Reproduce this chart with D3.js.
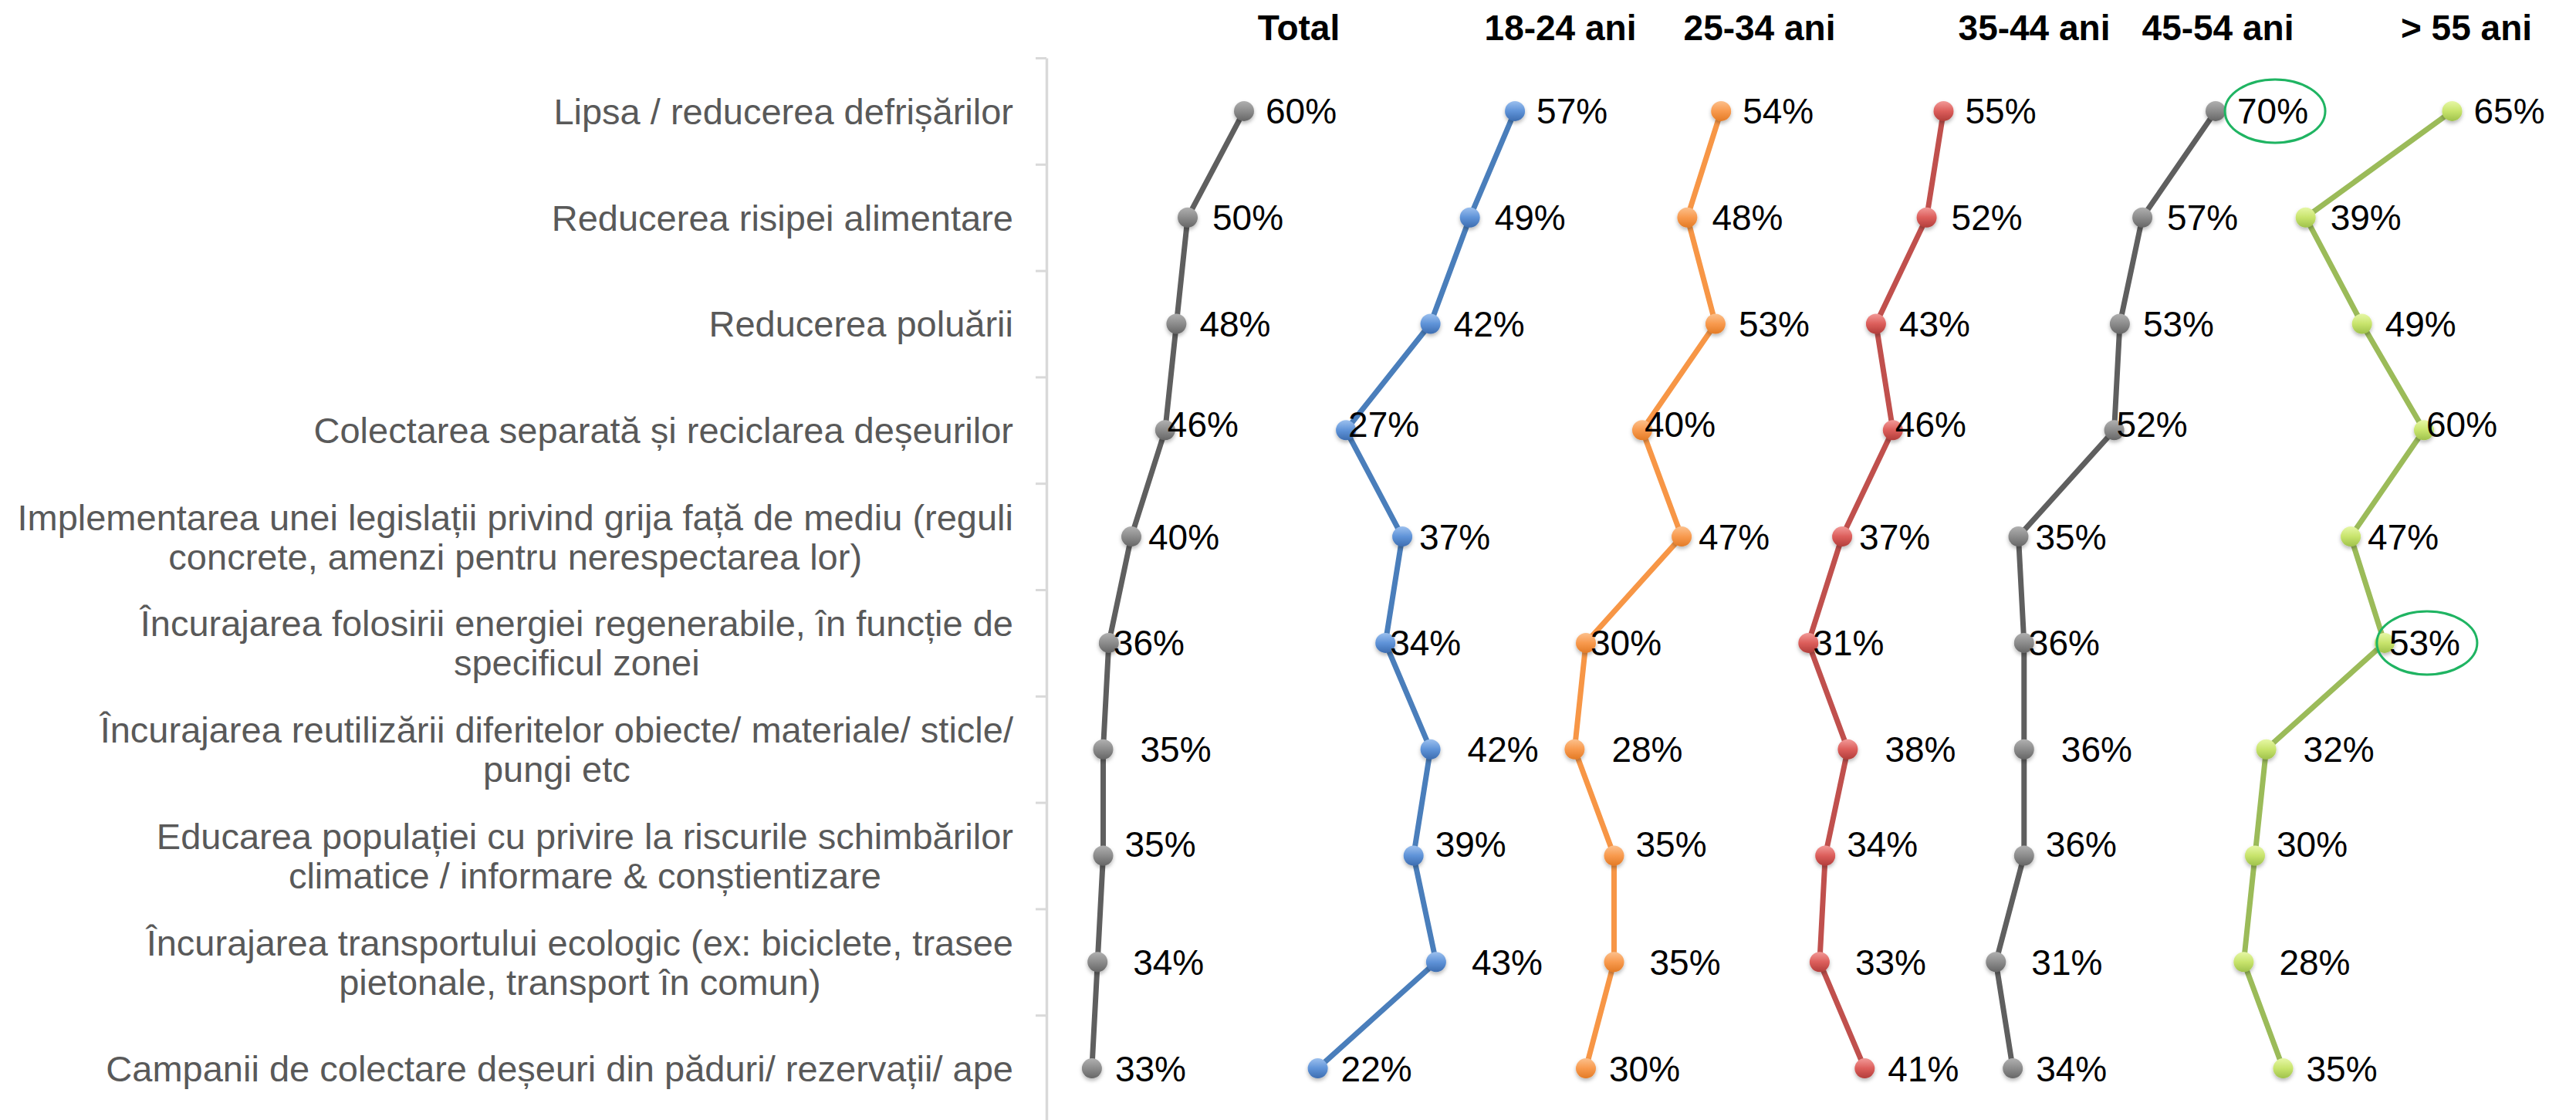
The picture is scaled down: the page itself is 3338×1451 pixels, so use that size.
<!DOCTYPE html>
<html>
<head>
<meta charset="utf-8">
<script src="https://cdn.jsdelivr.net/npm/d3@7"></script>
<style>
  html, body { margin: 0; padding: 0; background: #ffffff; }
  svg { display: block; }
</style>
</head>
<body>
<svg id="chart" width="3338" height="1451"></svg>
<script>
// ---- data ----
const categories = [
  "Lipsa / reducerea defrișărilor",
  "Reducerea risipei alimentare",
  "Reducerea poluării",
  "Colectarea separată și reciclarea deșeurilor",
  "Implementarea unei legislații privind grija față de mediu (reguli\nconcrete, amenzi pentru nerespectarea lor)",
  "Încurajarea folosirii energiei regenerabile, în funcție de\nspecificul zonei",
  "Încurajarea reutilizării diferitelor obiecte/ materiale/ sticle/\npungi etc",
  "Educarea populației cu privire la riscurile schimbărilor\nclimatice / informare & conștientizare",
  "Încurajarea transportului ecologic (ex: biciclete, trasee\npietonale, transport în comun)",
  "Campanii de colectare deșeuri din păduri/ rezervații/ ape"
];
const seriesNames = ["Total", "18-24 ani", "25-34 ani", "35-44 ani", "45-54 ani", "> 55 ani"];
const total     = [60, 50, 48, 46, 40, 36, 35, 35, 34, 33];
const age18_24  = [57, 49, 42, 27, 37, 34, 42, 39, 43, 22];
const age25_34  = [54, 48, 53, 40, 47, 30, 28, 35, 35, 30];
const age35_44  = [55, 52, 43, 46, 37, 31, 38, 34, 33, 41];
const age45_54  = [70, 57, 53, 52, 35, 36, 36, 36, 31, 34];
const age55plus = [65, 39, 49, 60, 47, 53, 32, 30, 28, 35];
const seriesValues = [total, age18_24, age25_34, age35_44, age45_54, age55plus];
// values circled in green
const highlighted = [
  { series: "45-54 ani", category: 0 },
  { series: "> 55 ani", category: 5 }
];

// ---- layout & style ----
const W = 3338, H = 1451;
const FONT = "'Liberation Sans', Arial, Helvetica, sans-serif";
const FS = 46;
const CAT_FS = 47;
const plotTop = 75, plotBottom = 1453;
const axisX = 1356;
const labelRight = 1313;
const lineGap = 51;
const pointWidth = 7.3;                                   // px per percentage point
const panelZero = [1174, 1547, 1836, 2117, 2360, 2703];   // x of 0% in each panel
const headerCenter = [1683, 2022, 2280, 2636, 2874, 3196];
const headerBaseline = 52;
const labelShift = [[28, 0], [32, 0], [30, 0], [3, -8], [22, 0], [6, 0], [48, 0], [28, -15], [46, 0], [30, 0]];
const palette = [
  { line: "#5f5f5f", hi: "#b0b0b0", mid: "#8c8c8c", lo: "#666666" },
  { line: "#4a7ebb", hi: "#9cc0ee", mid: "#5f93d8", lo: "#3d6db0" },
  { line: "#f79646", hi: "#fcc08c", mid: "#f89a4e", lo: "#e37b26" },
  { line: "#c0504d", hi: "#f29a98", mid: "#dc5e5b", lo: "#b23e3b" },
  { line: "#5f5f5f", hi: "#b0b0b0", mid: "#8c8c8c", lo: "#666666" },
  { line: "#9bbb59", hi: "#e6f7a6", mid: "#c8e46c", lo: "#9fc24c" }
];

const svg = d3.select("#chart");
svg.append("rect").attr("width", W).attr("height", H).attr("fill", "#ffffff");

const defs = svg.append("defs");
const shadow = defs.append("filter").attr("id", "markerShadow")
  .attr("x", "-60%").attr("y", "-60%").attr("width", "220%").attr("height", "240%");
shadow.append("feDropShadow").attr("dx", 0).attr("dy", 3).attr("stdDeviation", 2.5)
  .attr("flood-color", "#000").attr("flood-opacity", 0.28);

palette.forEach((p, i) => {
  const g = defs.append("linearGradient").attr("id", "mk" + i)
    .attr("x1", 0).attr("y1", 0).attr("x2", 0).attr("y2", 1);
  g.append("stop").attr("offset", "0%").attr("stop-color", p.hi);
  g.append("stop").attr("offset", "50%").attr("stop-color", p.mid);
  g.append("stop").attr("offset", "100%").attr("stop-color", p.lo);
});

// ---- scales ----
const y = d3.scaleBand().domain(categories).range([plotTop, plotBottom]).padding(0);
const yc = c => y(c) + y.bandwidth() / 2;
const xs = panelZero.map(z => d3.scaleLinear().domain([0, 100]).range([z, z + 100 * pointWidth]));

// ---- category axis (ticks between categories) ----
const boundary = d3.scaleLinear().domain([0, categories.length]).range([plotTop, plotBottom]);
const axis = svg.append("g").attr("transform", `translate(${axisX},0)`)
  .call(d3.axisLeft(boundary).ticks(categories.length).tickSize(14).tickSizeOuter(0).tickFormat(""));
axis.select(".domain").attr("stroke", "#d9d9d9").attr("stroke-width", 3.5);
axis.selectAll(".tick line").attr("stroke", "#d9d9d9").attr("stroke-width", 3);

// ---- category labels ----
const catG = svg.append("g").attr("font-family", FONT).attr("font-size", CAT_FS).attr("fill", "#595959");
categories.forEach(c => {
  const lines = c.split("\n");
  const g = catG.append("g");
  const texts = lines.map((ln, k) => g.append("text")
    .attr("y", yc(c) + (k - (lines.length - 1) / 2) * lineGap)
    .attr("dy", "0.36em").attr("text-anchor", "middle").text(ln));
  const maxW = d3.max(texts, t => t.node().getComputedTextLength());
  texts.forEach(t => t.attr("x", labelRight - maxW / 2));
});

// ---- column headers ----
svg.append("g").attr("font-family", FONT).attr("font-size", FS).attr("font-weight", "bold").attr("fill", "#000")
  .selectAll("text").data(seriesNames).join("text")
  .attr("x", (d, i) => headerCenter[i]).attr("y", headerBaseline)
  .attr("text-anchor", "middle").text(d => d);

// ---- series ----
seriesNames.forEach((name, si) => {
  const pts = seriesValues[si].map((v, ci) => ({ v, c: categories[ci], ci }));
  const g = svg.append("g");
  const line = d3.line().x(d => xs[si](d.v)).y(d => yc(d.c));
  g.append("path").datum(pts).attr("d", line)
    .attr("fill", "none").attr("stroke", palette[si].line)
    .attr("stroke-width", 7).attr("stroke-linejoin", "round").attr("stroke-linecap", "round");
  g.selectAll("circle").data(pts).join("circle")
    .attr("cx", d => xs[si](d.v)).attr("cy", d => yc(d.c)).attr("r", 13)
    .attr("fill", `url(#mk${si})`).attr("filter", "url(#markerShadow)");
  const labels = g.selectAll("text").data(pts).join("text")
    .attr("x", d => xs[si](d.v) + labelShift[d.ci][0])
    .attr("y", d => yc(d.c) + labelShift[d.ci][1])
    .attr("dy", "0.36em")
    .attr("font-family", FONT).attr("font-size", FS).attr("fill", "#000")
    .text(d => d.v + "%");

  // green ellipses around the highlighted values
  labels.each(function (d) {
    if (highlighted.some(h => h.series === name && h.category === d.ci)) {
      const b = this.getBBox();
      g.append("ellipse")
        .attr("cx", b.x + b.width / 2 + 3).attr("cy", yc(d.c) + labelShift[d.ci][1])
        .attr("rx", 65).attr("ry", 41)
        .attr("fill", "none").attr("stroke", "#1fb462").attr("stroke-width", 3);
    }
  });
});
</script>
</body>
</html>
